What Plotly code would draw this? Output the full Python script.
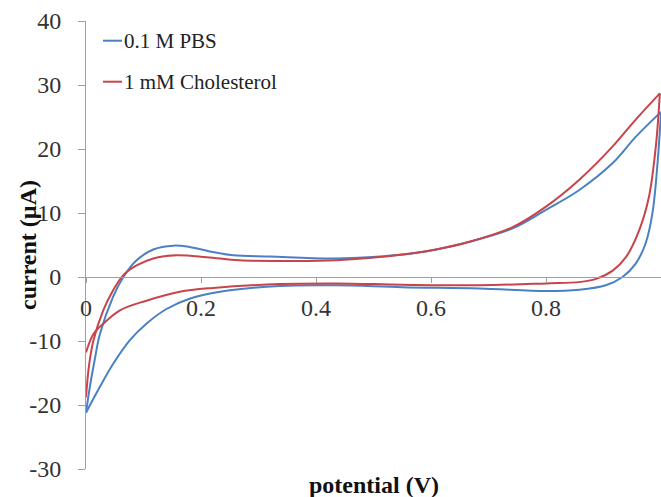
import plotly.graph_objects as go

# Cyclic voltammograms: forward (anodic) and reverse sweeps for each electrolyte
pbs_fwd_v = [0.0, 0.007, 0.015, 0.024, 0.047, 0.065, 0.088, 0.117, 0.152, 0.18, 0.221, 0.256,
             0.32, 0.435, 0.551, 0.609, 0.667, 0.742, 0.80, 0.858, 0.916, 0.956, 1.0]
pbs_fwd_i = [-21.2, -17.0, -13.0, -9.0, -3.1, 0.0, 2.6, 4.3, 4.9, 4.7, 3.9, 3.4,
             3.2, 2.9, 3.5, 4.3, 5.5, 7.6, 10.5, 13.6, 17.8, 21.9, 25.8]
pbs_rev_v = [1.0, 0.994, 0.985, 0.973, 0.956, 0.933, 0.904, 0.858, 0.80, 0.684, 0.55,
             0.435, 0.337, 0.233, 0.18, 0.14, 0.105, 0.076, 0.047, 0.024, 0.0]
pbs_rev_i = [25.8, 17.8, 9.9, 5.2, 2.1, 0.0, -1.3, -2.0, -2.2, -1.8, -1.6,
             -1.3, -1.4, -2.3, -3.4, -5.0, -7.3, -9.9, -13.6, -17.2, -21.2]

chol_fwd_v = [0.0, 0.005, 0.013, 0.03, 0.047, 0.065, 0.088, 0.117, 0.157, 0.21, 0.267,
              0.337, 0.435, 0.551, 0.609, 0.667, 0.742, 0.80, 0.858, 0.916, 0.956, 0.998]
chol_fwd_i = [-18.8, -14.0, -9.9, -5.2, -2.1, 0.3, 1.8, 2.9, 3.4, 3.1, 2.6,
              2.5, 2.6, 3.5, 4.3, 5.5, 7.8, 11.0, 15.2, 20.4, 24.6, 28.7]
chol_rev_v = [0.998, 0.991, 0.979, 0.962, 0.939, 0.916, 0.887, 0.858, 0.8, 0.684, 0.55,
              0.435, 0.337, 0.221, 0.163, 0.105, 0.059, 0.03, 0.013, 0.0]
chol_rev_i = [28.7, 20.4, 12.5, 7.3, 3.1, 1.0, -0.3, -0.8, -1.0, -1.3, -1.2,
              -1.0, -1.1, -1.7, -2.3, -3.7, -5.2, -7.3, -8.9, -11.8]

series_names = ["0.1 M PBS", "1 mM Cholesterol"]
series_colors = ["#4A80C4", "#C8444A"]

x_ticks = [0, 0.2, 0.4, 0.6, 0.8, 1.0]
x_tick_text = ["0", "0.2", "0.4", "0.6", "0.8", "1"]
y_ticks = [-30, -20, -10, 0, 10, 20, 30, 40]
y_tick_text = ["-30", "-20", "-10", "0", "10", "20", "30", "40"]

FONT = "Liberation Serif, Tinos, Noto Serif, DejaVu Serif, serif"

fig = go.Figure()
sweeps = [
    [(pbs_fwd_v, pbs_fwd_i), (pbs_rev_v, pbs_rev_i)],
    [(chol_fwd_v, chol_fwd_i), (chol_rev_v, chol_rev_i)],
]
for name, color, branches in zip(series_names, series_colors, sweeps):
    for v, i in branches:
        fig.add_trace(go.Scatter(
            x=v, y=i, mode="lines", name=name, legendgroup=name, showlegend=False,
            line=dict(color=color, width=2, shape="spline", smoothing=1.0),
        ))

# Legend drawn as short line swatches next to the series names
legend_y = [0.956, 0.8645]
for name, color, ly in zip(series_names, series_colors, legend_y):
    fig.add_shape(type="line", xref="paper", yref="paper",
                  x0=0.0296, x1=0.0626, y0=ly, y1=ly,
                  line=dict(color=color, width=2))
    fig.add_annotation(text=name, xref="paper", yref="paper", x=0.0626, y=ly,
                       xanchor="left", yanchor="middle", showarrow=False,
                       font=dict(family=FONT, size=21, color="#222222", weight=400))

# Axis titles
fig.add_annotation(text="<b>potential (V)</b>", xref="paper", yref="paper",
                   x=0.5, y=0, xanchor="center", yanchor="middle", yshift=-16,
                   showarrow=False, font=dict(family=FONT, size=24, color="#111111"))
fig.add_annotation(text="<b>current (µA)</b>", xref="paper", yref="paper",
                   x=0, y=0.5, xanchor="center", yanchor="middle", xshift=-58,
                   textangle=-90, showarrow=False,
                   font=dict(family=FONT, size=24, color="#111111"))

axis_color = "#A0A0A0"
tick_font = dict(family=FONT, size=24, color="#333333", weight=400)
fig.update_layout(
    width=661, height=497,
    margin=dict(l=86, r=0, t=21, b=28),
    paper_bgcolor="white", plot_bgcolor="white",
    showlegend=False,
    font=dict(family=FONT),
    xaxis=dict(
        range=[0, 1.0], anchor="free", position=30 / 70,
        tickvals=x_ticks, ticktext=x_tick_text,
        showline=True, linecolor=axis_color, linewidth=1,
        ticks="outside", ticklen=5, tickcolor=axis_color,
        ticklabelstandoff=4,
        showgrid=False, zeroline=False, automargin=False,
        tickfont=tick_font,
    ),
    yaxis=dict(
        range=[-30, 40], tickvals=y_ticks, ticktext=y_tick_text,
        showline=True, linecolor=axis_color, linewidth=1,
        ticks="outside", ticklen=7, tickcolor=axis_color,
        ticklabelstandoff=12,
        showgrid=False, zeroline=False, automargin=False,
        tickfont=tick_font,
    ),
)

fig.write_html("out.html")
